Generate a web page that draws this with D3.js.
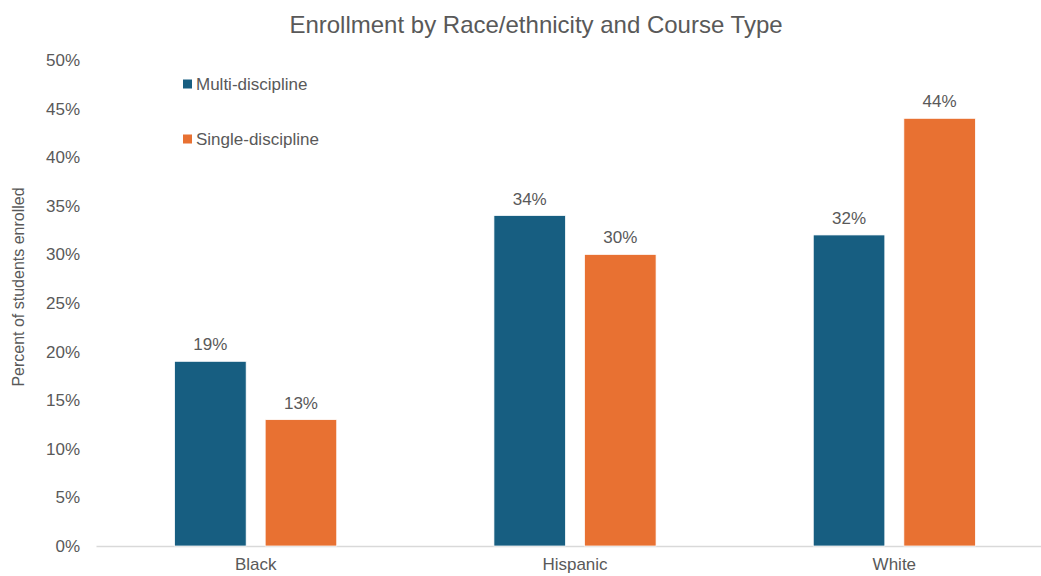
<!DOCTYPE html>
<html>
<head>
<meta charset="utf-8">
<script src="https://cdn.jsdelivr.net/npm/d3@7"></script>
<style>
  html, body { margin: 0; padding: 0; background: #fff; }
  svg { display: block; font-family: "Liberation Sans", Arial, sans-serif; }
</style>
</head>
<body>
<svg id="chart" width="1041" height="576"></svg>
<script>
// Enrollment share by race/ethnicity, split by course type
const categories = ["Black", "Hispanic", "White"];
const seriesNames = ["Multi-discipline", "Single-discipline"];
const multiDiscipline = [19, 34, 32];
const singleDiscipline = [13, 30, 44];
const yTicks = [0, 5, 10, 15, 20, 25, 30, 35, 40, 45, 50];
const colors = ["#175E81", "#E87132"];

const seriesValues = [multiDiscipline, singleDiscipline];
const svg = d3.select("#chart");
const textColor = "#595959";
const fontFamily = "Liberation Sans, Arial, sans-serif";

const x = d3.scaleBand().domain(categories).range([96, 1054]).paddingInner(0).paddingOuter(0);
const inner = d3.scaleBand().domain(seriesNames).range([78.6, x.bandwidth() - 78.6]).paddingInner(0.21);
const y = d3.scaleLinear().domain([0, 50]).range([546, 60]);

// Title
svg.append("text")
  .attr("x", 536).attr("y", 33)
  .attr("text-anchor", "middle")
  .attr("font-size", 24)
  .attr("fill", textColor)
  .text("Enrollment by Race/ethnicity and Course Type");

// Y axis labels
const yAxis = d3.axisLeft(y).tickValues(yTicks).tickSize(0).tickPadding(0).tickFormat(d => d + "%");
const yg = svg.append("g").attr("transform", "translate(80,0)").call(yAxis);
yg.select(".domain").remove();
yg.selectAll("text").attr("font-size", 17).attr("fill", textColor).attr("font-family", fontFamily);

// Y axis title
svg.append("text")
  .attr("transform", "translate(24,287) rotate(-90)")
  .attr("text-anchor", "middle")
  .attr("font-size", 16)
  .attr("fill", textColor)
  .text("Percent of students enrolled");

// X axis
const xAxis = d3.axisBottom(x).tickSize(0).tickPadding(12);
const xg = svg.append("g").attr("transform", "translate(0,546)").call(xAxis);
xg.select(".domain").attr("stroke", "#D9D9D9").attr("stroke-width", 1.5);
xg.selectAll("text").attr("font-size", 17).attr("fill", textColor).attr("font-family", fontFamily);

// Bars and value labels
seriesNames.forEach((name, si) => {
  const g = svg.append("g");
  g.selectAll("rect")
    .data(categories)
    .join("rect")
    .attr("x", c => x(c) + inner(name))
    .attr("width", inner.bandwidth())
    .attr("y", (c, i) => y(seriesValues[si][i]))
    .attr("height", (c, i) => y(0) - y(seriesValues[si][i]))
    .attr("fill", colors[si])
    .attr("stroke", "#ffffff")
    .attr("stroke-width", 0.75);
  g.selectAll("text")
    .data(categories)
    .join("text")
    .attr("x", c => x(c) + inner(name) + inner.bandwidth() / 2)
    .attr("y", (c, i) => y(seriesValues[si][i]) - 11)
    .attr("text-anchor", "middle")
    .attr("font-size", 17)
    .attr("fill", textColor)
    .text((c, i) => seriesValues[si][i] + "%");
});

// Legend
const legend = svg.append("g");
seriesNames.forEach((name, i) => {
  const ly = 84 + i * 55;
  legend.append("rect")
    .attr("x", 183).attr("y", ly - 4.5)
    .attr("width", 9).attr("height", 9)
    .attr("fill", colors[i]);
  legend.append("text")
    .attr("x", 196).attr("y", ly)
    .attr("dy", "0.35em")
    .attr("font-size", 17)
    .attr("fill", textColor)
    .text(name);
});
</script>
</body>
</html>
